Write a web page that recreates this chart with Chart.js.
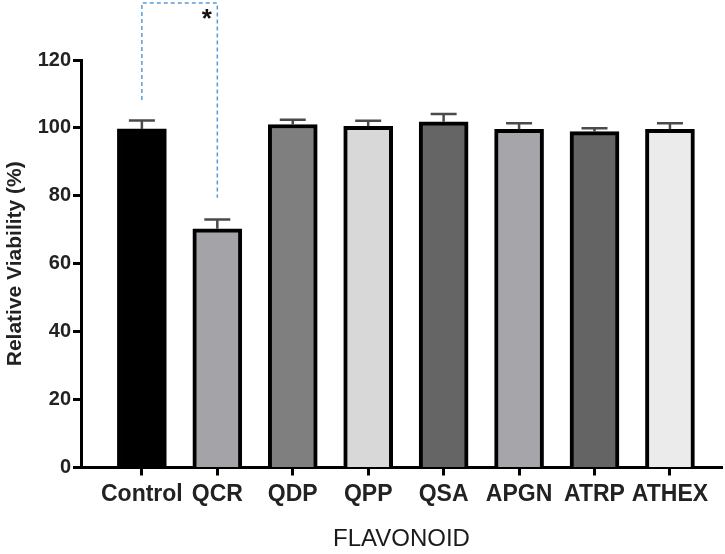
<!DOCTYPE html>
<html>
<head>
<meta charset="utf-8">
<script src="https://cdn.jsdelivr.net/npm/chart.js@4.4.1/dist/chart.umd.min.js"></script>
<style>
  html, body { margin: 0; padding: 0; background: #fff; }
  #wrap { width: 725px; height: 554px; position: relative; }
</style>
</head>
<body>
<div id="wrap"><canvas id="chart"></canvas></div>
<script>
// categories and values
const categories = ["Control", "QCR", "QDP", "QPP", "QSA", "APGN", "ATRP", "ATHEX"];
const viability = [99.7, 70.3, 101.0, 100.5, 101.8, 99.6, 98.9, 99.6];
const sem = [2.5, 2.7, 1.4, 1.6, 2.3, 1.8, 1.0, 1.8];
const barColors = ["#000000", "#a4a4a8", "#7f7f7f", "#d8d8d8", "#656565", "#a6a6aa", "#646464", "#ebebeb"];
const yTicks = [0, 20, 40, 60, 80, 100, 120];

// significance bracket between Control and QCR
const sigPair = [0, 1];
const sigTop = 136.8;
const sigLegEnds = [108.2, 79.4];
const sigLabel = "*";

const FONT = "'Liberation Sans', Arial, sans-serif";

const errorBars = {
  id: "errorBars",
  afterDatasetsDraw(chart) {
    const ctx = chart.ctx;
    const y = chart.scales.y;
    const meta = chart.getDatasetMeta(0);
    ctx.save();
    ctx.strokeStyle = "#4a4a4a";
    ctx.lineWidth = 2.5;
    meta.data.forEach((bar, i) => {
      const top = y.getPixelForValue(viability[i]);
      const cap = y.getPixelForValue(viability[i] + sem[i]);
      ctx.beginPath();
      ctx.moveTo(bar.x, top);
      ctx.lineTo(bar.x, cap);
      ctx.moveTo(bar.x - 13, cap);
      ctx.lineTo(bar.x + 13, cap);
      ctx.stroke();
    });
    ctx.restore();
  },
};

const bracket = {
  id: "bracket",
  afterDraw(chart) {
    const ctx = chart.ctx;
    const { x, y } = chart.scales;
    const x1 = x.getPixelForValue(sigPair[0]);
    const x2 = x.getPixelForValue(sigPair[1]);
    const top = y.getPixelForValue(sigTop);
    ctx.save();
    ctx.strokeStyle = "#5b9bd5";
    ctx.lineWidth = 1.5;
    ctx.setLineDash([4, 3]);
    ctx.beginPath();
    ctx.moveTo(x1, y.getPixelForValue(sigLegEnds[0]));
    ctx.lineTo(x1, top);
    ctx.lineTo(x2, top);
    ctx.lineTo(x2, y.getPixelForValue(sigLegEnds[1]));
    ctx.stroke();
    ctx.setLineDash([]);
    ctx.fillStyle = "#111";
    ctx.font = "bold 26px " + FONT;
    ctx.textAlign = "center";
    ctx.textBaseline = "middle";
    ctx.fillText(sigLabel, x.getPixelForValue(sigPair[1] - 0.14), y.getPixelForValue(sigTop - 5));
    ctx.restore();
  },
};

new Chart(document.getElementById("chart"), {
  type: "bar",
  data: {
    datasets: [
      {
        label: "Relative Viability",
        data: viability.map((v, i) => ({ x: i, y: v })),
        backgroundColor: barColors,
        borderColor: "#000",
        borderWidth: 4,
        borderSkipped: "start",
        barThickness: 49,
      },
    ],
  },
  options: {
    responsive: true,
    maintainAspectRatio: false,
    animation: false,
    layout: { padding: { top: 60, right: 3, left: 0, bottom: 0 } },
    plugins: {
      legend: { display: false },
      tooltip: { enabled: false },
    },
    scales: {
      x: {
        type: "linear",
        offset: false,
        min: -0.807,
        max: 7.69,
        afterFit: (s) => { s.height = 86.5; },
        afterBuildTicks: (s) => { s.ticks = categories.map((_, i) => ({ value: i })); },
        ticks: {
          stepSize: 1,
          includeBounds: false,
          autoSkip: false,
          maxRotation: 0,
          padding: 5,
          color: "#222",
          font: { family: FONT, size: 23, weight: "bold" },
          callback: (v) => categories[v] ?? "",
        },
        grid: { offset: false, drawOnChartArea: false, tickLength: 8, tickWidth: 3, tickColor: "#000" },
        border: { color: "#000", width: 3 },
        title: {
          display: true,
          text: "FLAVONOID",
          color: "#1a1a1a",
          font: { family: FONT, size: 24 },
          padding: { top: 0, bottom: 0 },
        },
      },
      y: {
        min: 0,
        max: 120,
        afterFit: (s) => { s.width = 81; },
        afterBuildTicks: (s) => { s.ticks = yTicks.map((v) => ({ value: v })); },
        ticks: {
          padding: 2,
          color: "#222",
          font: { family: FONT, size: 20, weight: "bold" },
        },
        grid: { drawOnChartArea: false, tickLength: 8, tickWidth: 3, tickColor: "#000" },
        border: { color: "#000", width: 3 },
        title: {
          display: true,
          text: "Relative Viability (%)",
          color: "#222",
          font: { family: FONT, size: 21, weight: "bold" },
          padding: { top: 3, bottom: 0 },
        },
      },
    },
  },
  plugins: [errorBars, bracket],
});
</script>
</body>
</html>
